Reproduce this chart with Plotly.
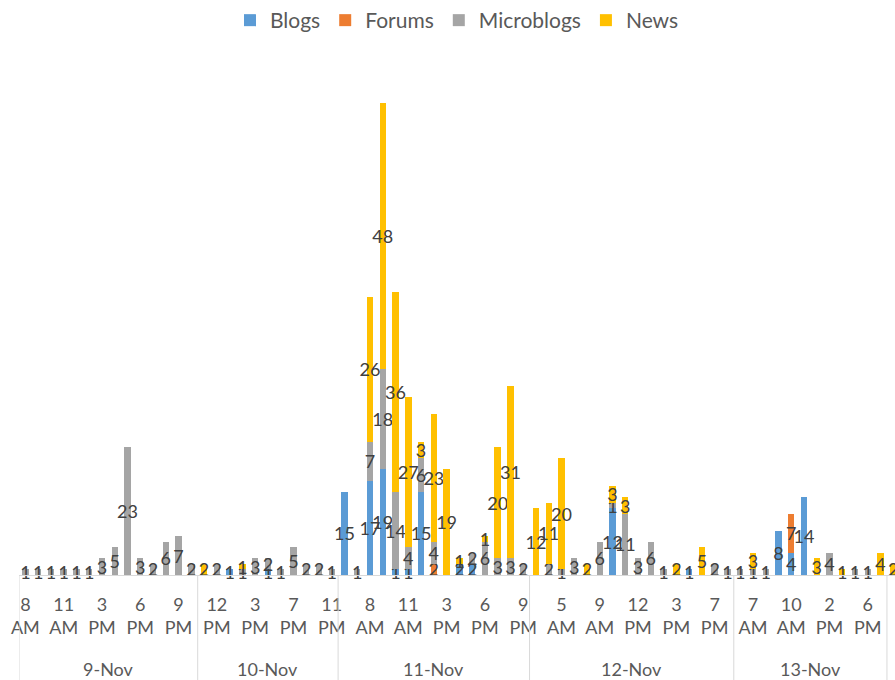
import plotly.graph_objects as go

# Hourly mention counts by source, 9-14 Nov
day = (["9-Nov"] * 14 + ["10-Nov"] * 11 + ["11-Nov"] * 15 +
       ["12-Nov"] * 16 + ["13-Nov"] * 12 + ["14-Nov"] * 1)
hour = [
    # 9-Nov
    "8 AM", "9 AM", "10 AM", "11 AM", "12 PM", "1 PM", "3 PM", "4 PM", "5 PM",
    "6 PM", "7 PM", "8 PM", "9 PM", "10 PM",
    # 10-Nov
    "10 AM", "12 PM", "1 PM", "2 PM", "3 PM", "4 PM", "6 PM", "7 PM", "8 PM",
    "10 PM", "11 PM",
    # 11-Nov
    "6 AM", "7 AM", "8 AM", "9 AM", "10 AM", "11 AM", "12 PM", "2 PM", "3 PM",
    "4 PM", "5 PM", "6 PM", "7 PM", "8 PM", "9 PM",
    # 12-Nov
    "3 AM", "4 AM", "5 AM", "6 AM", "8 AM", "9 AM", "10 AM", "11 AM", "12 PM",
    "1 PM", "2 PM", "3 PM", "4 PM", "6 PM", "7 PM", "9 PM",
    # 13-Nov
    "6 AM", "7 AM", "8 AM", "9 AM", "10 AM", "11 AM", "1 PM", "2 PM", "3 PM",
    "5 PM", "6 PM", "8 PM",
    # 14-Nov
    "12 AM",
]

N = None
blogs = [
    N, N, N, N, N, N, N, N, N, N, N, N, N, N,
    N, N, 1, N, N, 1, N, N, N, N, N,
    15, N, 17, 19, 1, 1, 15, N, N, 2, 2, N, N, N, N,
    N, N, N, N, N, N, 12, N, N, N, N, N, 1, N, N, N,
    N, N, N, 8, 4, 14, N, N, N, N, N, N,
    N,
]
forums = [
    N, N, N, N, N, N, N, N, N, N, N, N, N, N,
    N, N, N, N, N, N, N, N, N, N, N,
    N, N, N, N, N, N, N, 2, N, N, N, N, N, N, N,
    N, N, N, N, N, N, N, N, N, N, N, N, N, N, N, N,
    N, N, N, N, 7, N, N, N, N, N, N, N,
    N,
]
microblogs = [
    1, 1, 1, 1, 1, 1, 3, 5, 23, 3, 2, 6, 7, 2,
    N, 2, N, 1, 3, 2, 1, 5, 2, 2, 1,
    N, 1, 7, 18, 14, 4, 6, 4, N, N, 2, 6, 3, 3, 2,
    N, 2, 1, 3, N, 6, 1, 11, 3, 6, 1, N, N, N, 2, 1,
    1, 1, 1, N, N, N, N, 4, N, 1, 1, N,
    N,
]
news = [
    N, N, N, N, N, N, N, N, N, N, N, N, N, N,
    2, N, N, 1, N, N, N, N, N, N, N,
    N, N, 26, 48, 36, 27, 3, 23, 19, 1, N, 1, 20, 31, N,
    12, 11, 20, N, 2, N, 3, 3, N, N, N, 2, N, 5, N, N,
    N, 3, N, N, N, N, 3, N, 1, N, N, 4,
    2,
]

series = [
    ("Blogs", blogs, "#5B9BD5"),
    ("Forums", forums, "#ED7D31"),
    ("Microblogs", microblogs, "#A5A5A5"),
    ("News", news, "#FFC000"),
]

cats = [f"{d} {h}" for d, h in zip(day, hour)]
tick_vals = cats[::3]
tick_text = [h.replace(" ", "<br>") for h in hour[::3]]

X_MAX = 68.13  # right end of the visible category range

FONT = "Lato"
LABEL_COLOR = "#404040"
AXIS_TEXT = "#595959"
LINE_COLOR = "#D9D9D9"

fig = go.Figure()
for name, vals, color in series:
    fig.add_trace(go.Bar(
        name=name, x=cats, y=vals,
        marker=dict(color=color, line=dict(width=0)),
        texttemplate="%{y}",
        textposition="inside",
        insidetextanchor="middle",
        textangle=0,
        constraintext="none",
        cliponaxis=False,
        textfont=dict(family=FONT, size=18, color=LABEL_COLOR),
        insidetextfont=dict(family=FONT, size=18, color=LABEL_COLOR),
        hoverinfo="skip",
    ))

# Day groups: centred labels and divider lines under the axis
shapes = []
annotations = []
start = 0
for i in range(1, len(day) + 1):
    if i == len(day) or day[i] != day[start]:
        shapes.append(dict(
            type="line", xref="x", yref="paper",
            x0=start - 0.5, x1=start - 0.5, y0=0, y1=-0.215,
            line=dict(color=LINE_COLOR, width=1),
        ))
        # the final day runs on past the right edge, so its label is off-view
        if i < len(day):
            annotations.append(dict(
                x=(start + i - 1) / 2, xref="x", y=-0.188, yref="paper",
                text=day[start], showarrow=False,
                font=dict(family=FONT, size=18, color=AXIS_TEXT),
                xanchor="center", yanchor="middle",
            ))
        start = i

fig.update_layout(
    width=895, height=680,
    margin=dict(l=18.6, r=0, t=75, b=105),
    paper_bgcolor="white", plot_bgcolor="white",
    barmode="stack", bargap=0.5,
    font=dict(family=FONT, size=18, color=AXIS_TEXT),
    showlegend=True,
    legend=dict(
        orientation="h", x=0.5, xanchor="center", y=1.11, yanchor="middle",
        traceorder="normal", font=dict(family=FONT, size=21, color=AXIS_TEXT),
        bgcolor="rgba(0,0,0,0)",
    ),
    xaxis=dict(
        type="category", categoryorder="array", categoryarray=cats,
        range=[-0.5, X_MAX], fixedrange=True,
        showgrid=False, zeroline=False,
        showline=True, linecolor=LINE_COLOR, linewidth=1,
        ticks="", tickmode="array", tickvals=tick_vals, ticktext=tick_text,
        tickfont=dict(family=FONT, size=18, color=AXIS_TEXT),
        ticklabelstandoff=13, automargin=False,
    ),
    yaxis=dict(range=[0, 90], visible=False, fixedrange=True),
    shapes=shapes,
    annotations=annotations,
)

fig.write_html("out.html")
